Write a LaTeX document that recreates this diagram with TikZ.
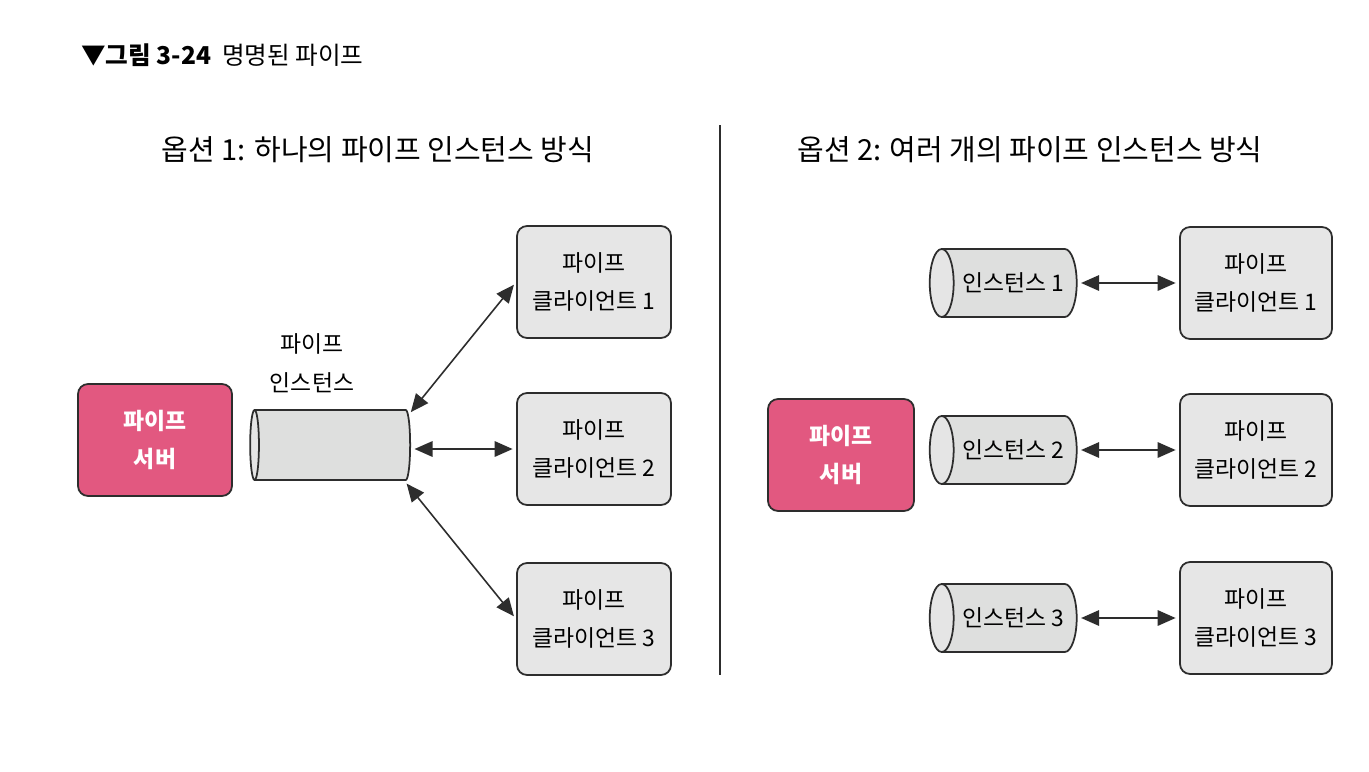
\documentclass[tikz,border=0pt]{standalone}
\usepackage{fontspec}
\setmainfont{Noto Sans CJK KR}
\usetikzlibrary{positioning,shapes.geometric,arrows.meta}
\definecolor{serverpink}{RGB}{226,88,128}
\definecolor{boxgray}{RGB}{230,230,230}
\definecolor{pipegray}{RGB}{222,223,222}
\definecolor{inkgray}{RGB}{45,45,45}

\begin{document}
\begin{tikzpicture}[x=0.02cm,y=-0.02cm,
            box/.style={rectangle,rounded corners=0.2cm,draw=inkgray,line width=1pt,align=center,font=\fontsize{13}{22}\selectfont},
            client/.style={box,fill=boxgray,minimum width=3.08cm,minimum height=2.24cm},
            server/.style={box,fill=serverpink,text=white,minimum height=2.24cm,font=\fontsize{13}{22}\selectfont\bfseries},
            pipe/.style={cylinder,shape border rotate=180,aspect=0.75,draw=inkgray,line width=1pt,cylinder uses custom fill,cylinder body fill=pipegray,cylinder end fill=pipegray!80!white,align=center,font=\fontsize{13}{22}\selectfont},
            link/.style={{Triangle[length=3.6mm,width=3.1mm]}-{Triangle[length=3.6mm,width=3.1mm]},line width=0.9pt,draw=inkgray,shorten <=2pt,shorten >=2pt},
            title/.style={font=\fontsize{16.5}{20}\selectfont}]

            \useasboundingbox[fill=white] (0,0) rectangle (1369,771);

            \node[anchor=west,font=\fontsize{14}{16}\selectfont] (caption) at (75,55) {▼\textbf{그림 3-24}\ \ 명명된 파이프};
            \node[title] (leftTitle) at (378,150) {옵션 1: 하나의 파이프 인스턴스 방식};
            \node[title] (rightTitle) at (1030,150) {옵션 2: 여러 개의 파이프 인스턴스 방식};
            \coordinate (divTop) at (720,125);
            \coordinate (divBot) at (720,675);
            \draw[line width=1pt,inkgray] (divTop) -- (divBot);

            \node[server,minimum width=3.08cm] (server1) at (155,440) {파이프\\서버};
            \node[pipe,minimum height=3.2cm,minimum width=1.4cm] (pipe1) at (334,445) {};
            \node[align=center,font=\fontsize{13}{22}\selectfont] (pipeLabel) at (312,363) {파이프\\인스턴스};
            \node[client] (client1) at (594,282) {파이프\\클라이언트 1};
            \node[client] (client2) at (594,449) {파이프\\클라이언트 2};
            \node[client] (client3) at (594,619) {파이프\\클라이언트 3};
            \draw[link] (pipe1.22) -- (client1.west);
            \draw[link] (pipe1.east |- client2.west) -- (client2.west);
            \draw[link] (pipe1.-27) -- (client3.west);

            \node[server,minimum width=2.92cm] (server2) at (841,455) {파이프\\서버};
            \foreach \i/\y in {1/283,2/450,3/618}{
               \node[pipe,minimum height=2.94cm,minimum width=1.36cm] (inst\i) at (1013,\y) {인스턴스 \i};
               \node[client,minimum width=3.04cm] (rclient\i) at (1256,\y) {파이프\\클라이언트 \i};
               \draw[link] (inst\i.east) -- (rclient\i.west);
            }
         \end{tikzpicture}
\end{document}
